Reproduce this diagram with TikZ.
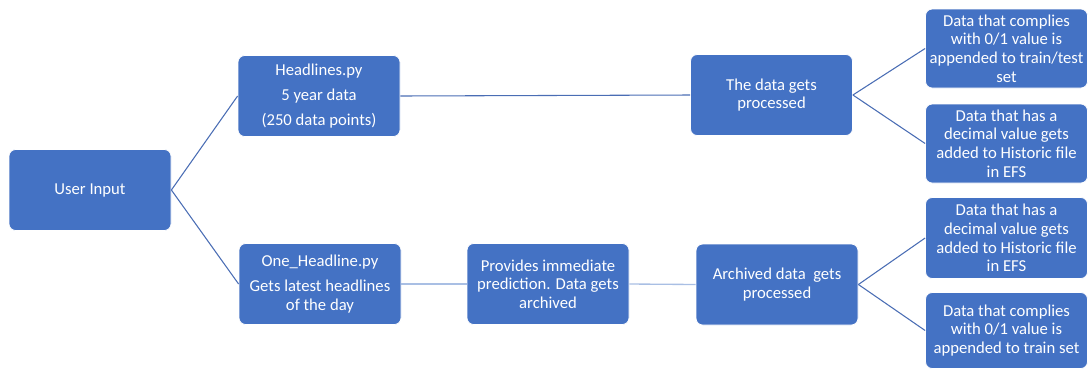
\documentclass[tikz,border=0pt]{standalone}
\usepackage{fontspec}
\setmainfont{Carlito}
\usepackage{tikz}

\begin{document}
\begin{tikzpicture}[x=0.75pt,y=-0.75pt,
   box/.style={draw=white,line width=0.6pt,fill=boxblue,rounded corners=5pt,
     text=white,align=center,inner sep=0pt,minimum width=121.5pt,minimum height=60.75pt,
     font=\fontsize{12.5}{14}\selectfont},
   link/.style={draw=lineblue,line width=0.8pt},
   pale/.style={draw=paleblue,line width=1pt}]
\definecolor{boxblue}{HTML}{4472C4}
\definecolor{lineblue}{HTML}{4A6DB4}
\definecolor{paleblue}{HTML}{A9BFE4}
\useasboundingbox (0,0) rectangle (1088,369);
\node[box] (user) at (90,190) {User Input};
\node[box] (head) at (319,96) {Headlines.py\\[5pt]5 year data\\[5pt](250 data points)};
\node[box] (one) at (320,284) {One\_Headline.py\\[5pt]Gets latest headlines\\of the day};
\node[box] (prov) at (548,284) {Provides immediate\\prediction. Data gets\\archived};
\node[box] (proc) at (771.5,95) {The data gets\\processed};
\node[box] (arch) at (777,284.5) {Archived data\ \ gets\\processed};
\node[box,minimum height=59.25pt] (rA) at (1006.5,48.5) {Data that complies\\with 0/1 value is\\appended to train/test\\set};
\node[box,minimum height=59.25pt] (rB) at (1006.5,143.5) {Data that has a\\decimal value gets\\added to Historic file\\in EFS};
\node[box] (rC) at (1006.5,238) {Data that has a\\decimal value gets\\added to Historic file\\in EFS};
\node[box,minimum height=57pt] (rD) at (1006.5,330.5) {Data that complies\\with 0/1 value is\\appended to train set};
\draw[link] (user.east) -- (head.west);
\draw[link] (user.east) -- (one.west);
\draw[link] (head.east) -- (proc.west);
\draw[pale] (one.east) -- (prov.west);
\draw[pale] (prov.east) -- (arch.west);
\draw[link] (proc.east) -- (rA.west);
\draw[link] (proc.east) -- (rB.west);
\draw[link] (arch.east) -- (rC.west);
\draw[link] (arch.east) -- (rD.west);
\end{tikzpicture}
\end{document}
